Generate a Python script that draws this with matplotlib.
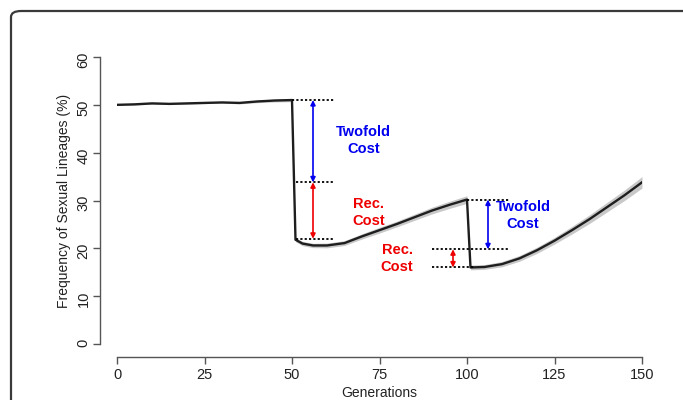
import matplotlib
matplotlib.use("Agg")
import matplotlib.pyplot as plt
from matplotlib.patches import FancyBboxPatch
import numpy as np

plt.rcParams['font.family'] = ['Liberation Sans', 'DejaVu Sans']

# generations and mean frequency of sexual lineages (%)
gens = [0, 5, 10, 15, 20, 25, 30, 35, 40, 45, 50,
        51, 53, 56, 60, 65, 70, 75, 80, 85, 90, 95, 100,
        101, 105, 110, 115, 120, 125, 130, 135, 140, 145, 150]
freq = [50.0, 50.1, 50.3, 50.2, 50.3, 50.4, 50.5, 50.4, 50.7, 50.9, 51.0,
        21.8, 21.0, 20.6, 20.6, 21.1, 22.5, 23.8, 25.1, 26.5, 27.9, 29.1, 30.2,
        16.0, 16.1, 16.7, 17.9, 19.6, 21.6, 23.8, 26.1, 28.6, 31.1, 33.8]
# half width of the grey band around the mean
band = [0.15, 0.15, 0.15, 0.15, 0.15, 0.15, 0.15, 0.2, 0.25, 0.3, 0.35,
        0.4, 0.45, 0.45, 0.5, 0.5, 0.55, 0.6, 0.6, 0.65, 0.7, 0.75, 0.8,
        0.5, 0.5, 0.55, 0.6, 0.65, 0.7, 0.8, 0.9, 1.0, 1.1, 1.2]

# cost levels
top1, mid1, low1 = 51.0, 33.8, 22.0
top2, mid2, low2 = 30.2, 19.8, 16.0

fig = plt.figure(figsize=(6.83, 4.0), dpi=100)

# rounded frame around the panel (runs off the right/bottom edge)
frame = FancyBboxPatch((11/683, -0.2), 1.0, 1.2 - 11/400,
                       boxstyle="round,pad=0,rounding_size=0.015",
                       transform=fig.transFigure, fill=False,
                       edgecolor="#3a3a3a", linewidth=1.6, clip_on=False)
fig.patches.append(frame)

ax = fig.add_axes([117/683, 56/400, (642-117)/683, (344-57)/400])

g = np.array(gens)
f = np.array(freq)
b = np.array(band)
ax.fill_between(g, f - b, f + b, color="#c8c8c8", lw=0)
ax.plot(g, f, color="#1e1e1e", lw=1.7)

# dotted reference lines
dot = dict(color="black", lw=1.3, ls=(0, (1.2, 1.2)))
ax.plot([50, 62], [top1, top1], **dot)
ax.plot([51, 62], [mid1, mid1], **dot)
ax.plot([51, 62], [low1, low1], **dot)
ax.plot([100, 112], [top2, top2], **dot)
ax.plot([90, 112], [mid2, mid2], **dot)
ax.plot([90, 102], [low2, low2], **dot)

arr = dict(arrowstyle="<|-|>", lw=1.2, mutation_scale=7, shrinkA=0, shrinkB=0)
ax.annotate("", xy=(56, top1), xytext=(56, mid1), arrowprops=dict(color="#0000ee", **arr))
ax.annotate("", xy=(56, mid1), xytext=(56, low1), arrowprops=dict(color="#ee0000", **arr))
ax.annotate("", xy=(106, top2), xytext=(106, mid2), arrowprops=dict(color="#0000ee", **arr))
ax.annotate("", xy=(96, mid2), xytext=(96, low2), arrowprops=dict(color="#ee0000", **arr))

tk = dict(ha="center", va="center", fontsize=10.5, fontweight="bold", linespacing=1.25)
ax.text(70.5, 42.5, "Twofold\nCost", color="#0000ee", **tk)
ax.text(72, 27.5, "Rec.\nCost", color="#ee0000", **tk)
ax.text(80, 17.9, "Rec.\nCost", color="#ee0000", **tk)
ax.text(116, 26.9, "Twofold\nCost", color="#0000ee", **tk)

ax.set_xlim(0, 150)
ax.set_ylim(0, 60)
ax.set_xticks([0, 25, 50, 75, 100, 125, 150])
ax.set_yticks([0, 10, 20, 30, 40, 50, 60])
ax.tick_params(colors="#555555", labelcolor="#222222", labelsize=10.5, length=5, width=1, pad=3)
ax.tick_params(axis="y", labelrotation=90, pad=2)
for lab in ax.get_yticklabels():
    lab.set_va("center")

for s in ["top", "right"]:
    ax.spines[s].set_visible(False)
ax.spines["left"].set_position(("outward", 12))
ax.spines["bottom"].set_position(("outward", 9.5))
ax.spines["left"].set_bounds(0, 60)
ax.spines["bottom"].set_bounds(0, 150)
for s in ["left", "bottom"]:
    ax.spines[s].set_color("#555555")
    ax.spines[s].set_linewidth(1)

ax.set_xlabel("Generations", fontsize=10, color="#222222", labelpad=3)
ax.set_ylabel("Frequency of Sexual Lineages (%)", fontsize=10, color="#222222", labelpad=4)

fig.savefig("out.png", dpi=100)
